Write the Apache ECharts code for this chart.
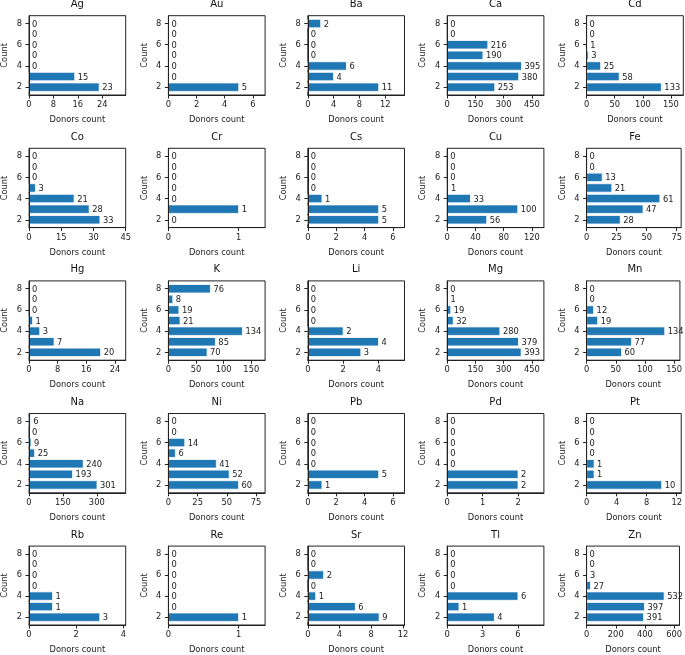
<!DOCTYPE html>
<html>
<head>
<meta charset="utf-8">
<script src="https://cdn.jsdelivr.net/npm/echarts@6/dist/echarts.min.js"></script>
<style>html,body{margin:0;padding:0;background:#fff}#chart{width:685px;height:655px}</style>
</head>
<body>
<div id="chart"></div>
<script>
// ---- data ----
const elements = ["Ag","Au","Ba","Ca","Cd","Co","Cr","Cs","Cu","Fe","Hg","K","Li","Mg","Mn","Na","Ni","Pb","Pd","Pt","Rb","Re","Sr","Tl","Zn"];
const counts = [2,3,4,5,6,7,8];
// donors count per element, ordered by counts (2..8)
const Ag = [23,15,0,0,0,0,0];
const Au = [5,0,0,0,0,0,0];
const Ba = [11,4,6,0,0,0,2];
const Ca = [253,380,395,190,216,0,0];
const Cd = [133,58,25,3,1,0,0];
const Co = [33,28,21,3,0,0,0];
const Cr = [0,1,0,0,0,0,0];
const Cs = [5,5,1,0,0,0,0];
const Cu = [56,100,33,1,0,0,0];
const Fe = [28,47,61,21,13,0,0];
const Hg = [20,7,3,1,0,0,0];
const K  = [70,85,134,21,19,8,76];
const Li = [3,4,2,0,0,0,0];
const Mg = [393,379,280,32,19,1,0];
const Mn = [60,77,134,19,12,0,0];
const Na = [301,193,240,25,9,0,6];
const Ni = [60,52,41,6,14,0,0];
const Pb = [1,5,0,0,0,0,0];
const Pd = [2,2,0,0,0,0,0];
const Pt = [10,1,1,0,0,0,0];
const Rb = [3,1,1,0,0,0,0];
const Re = [1,0,0,0,0,0,0];
const Sr = [9,6,1,0,2,0,0];
const Tl = [4,1,6,0,0,0,0];
const Zn = [391,397,532,27,3,0,0];
const seriesValues = [Ag,Au,Ba,Ca,Cd,Co,Cr,Cs,Cu,Fe,Hg,K,Li,Mg,Mn,Na,Ni,Pb,Pd,Pt,Rb,Re,Sr,Tl,Zn];
// x tick labels per panel
const xTicks = [
  [0,8,16,24],[0,2,4,6],[0,4,8,12],[0,150,300,450],[0,50,100,150],
  [0,15,30,45],[0,1],[0,2,4,6],[0,40,80,120],[0,25,50,75],
  [0,8,16,24],[0,50,100,150],[0,2,4],[0,150,300,450],[0,50,100,150],
  [0,150,300],[0,25,50,75],[0,2,4,6],[0,1,2],[0,4,8,12],
  [0,2,4],[0,1],[0,4,8,12],[0,3,6],[0,200,400,600]
];
// x axis upper limits per panel
const xMax = [31.7,6.87,15.0,514,172,45,1.377,6.82,137,78.7,27,175,5.47,514,160,428,82.7,6.82,2.73,12.6,4.1,1.377,12.2,8.2,637];
const yTicks = [2,4,6,8];
const yMin = 1.26, yMax = 8.74;

// ---- layout ----
const FONT = 'DejaVu Sans';
const TXT = '#222';
const colLeft = 29, colStep = 139.4, gW = 96.7;
const rowTop = 15.7, rowStep = 132.6, gH = 79.3;

const grids = [], xAxes = [], yAxes = [], series = [], titles = [];
elements.forEach((el, i) => {
  const r = Math.floor(i / 5), c = i % 5;
  const left = colLeft + colStep * c;
  const top = rowTop + rowStep * r;
  grids.push({left: left, top: top, width: gW, height: gH, show: true,
    borderColor: TXT, borderWidth: 1, backgroundColor: 'transparent'});
  titles.push({text: el, left: left + gW / 2, top: top - 16, textAlign: 'center', padding: 0,
    textStyle: {fontFamily: FONT, fontSize: 10, fontWeight: 'normal', color: '#111'}});
  xAxes.push({gridIndex: i, type: 'value', min: 0, max: xMax[i], z: 5,
    splitLine: {show: false},
    axisLine: {show: true, lineStyle: {color: TXT, width: 1}},
    axisTick: {show: true, customValues: xTicks[i], length: 3.5, lineStyle: {color: TXT, width: 1}},
    axisLabel: {customValues: xTicks[i], fontFamily: FONT, fontSize: 8.3, color: TXT, margin: 6},
    name: 'Donors count', nameLocation: 'middle', nameGap: 21,
    nameTextStyle: {fontFamily: FONT, fontSize: 8.3, color: TXT}});
  yAxes.push({gridIndex: i, type: 'value', min: yMin, max: yMax, z: 5,
    splitLine: {show: false},
    axisLine: {show: true, lineStyle: {color: TXT, width: 1}},
    axisTick: {show: true, customValues: yTicks, length: 3.5, lineStyle: {color: TXT, width: 1}},
    axisLabel: {customValues: yTicks, fontFamily: FONT, fontSize: 8.3, color: TXT, margin: 7},
    name: 'Count', nameLocation: 'middle', nameGap: 20, nameRotate: 90,
    nameTextStyle: {fontFamily: FONT, fontSize: 8.3, color: TXT}});
  series.push({
    type: 'custom', xAxisIndex: i, yAxisIndex: i,
    data: seriesValues[i].map((v, k) => [v, counts[k]]),
    encode: {x: 0, y: 1},
    clip: false,
    renderItem: function (params, api) {
      const v = api.value(0), cnt = api.value(1);
      const p0 = api.coord([0, cnt + 0.4]);
      const p1 = api.coord([v, cnt - 0.4]);
      const children = [];
      if (v > 0) {
        children.push({type: 'rect',
          shape: {x: p0[0], y: p0[1], width: p1[0] - p0[0], height: p1[1] - p0[1]},
          style: {fill: '#1f77b4', stroke: '#ffffff', lineWidth: 0.8}});
      }
      children.push({type: 'text',
        style: {text: String(v), x: p1[0] + 3, y: (p0[1] + p1[1]) / 2 + 0.8,
          align: 'left', verticalAlign: 'middle', fontFamily: FONT, fontSize: 8.3, fill: TXT}});
      return {type: 'group', children: children};
    }
  });
});

const chart = echarts.init(document.getElementById('chart'), null, {renderer: 'canvas'});
chart.setOption({
  animation: false,
  backgroundColor: '#fff',
  title: titles,
  grid: grids,
  xAxis: xAxes,
  yAxis: yAxes,
  series: series
});
</script>
</body>
</html>
